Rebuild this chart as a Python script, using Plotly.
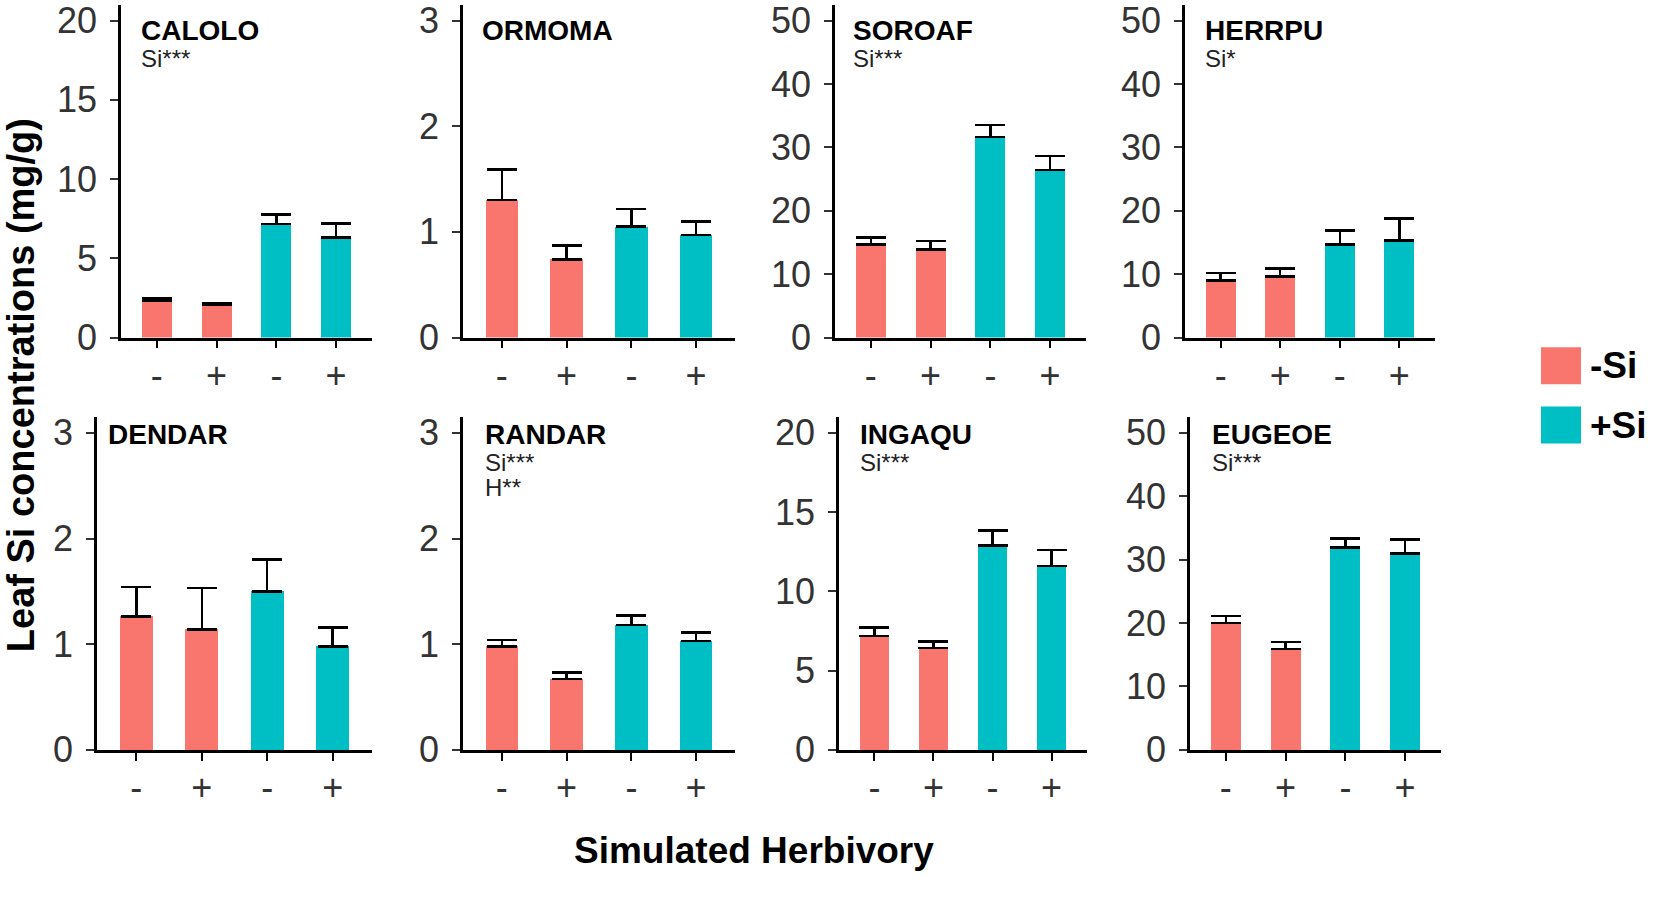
import plotly.graph_objects as go
from plotly.subplots import make_subplots

# data
species = ["CALOLO", "ORMOMA", "SOROAF", "HERRPU", "DENDAR", "RANDAR", "INGAQU", "EUGEOE"]
sig = [["Si***"], [], ["Si***"], ["Si*"], [], ["Si***", "H**"], ["Si***"], ["Si***"]]
ymax = [20, 3, 50, 50, 3, 3, 20, 50]
ystep = [5, 1, 10, 10, 1, 1, 5, 10]
groups = ["-Si", "+Si"]
herb = ["-", "+"]
# mean per species: [-Si/H-, -Si/H+, +Si/H-, +Si/H+]
means = [
    [2.31, 2.04, 7.16, 6.30],
    [1.30, 0.74, 1.05, 0.97],
    [14.7, 13.9, 31.6, 26.4],
    [9.0, 9.6, 14.7, 15.3],
    [1.26, 1.14, 1.50, 0.98],
    [0.98, 0.67, 1.18, 1.03],
    [7.18, 6.43, 12.9, 11.6],
    [20.0, 15.9, 31.9, 31.0],
]
se = [
    [0.16, 0.15, 0.61, 0.88],
    [0.29, 0.13, 0.165, 0.13],
    [1.05, 1.3, 1.9, 2.2],
    [1.2, 1.3, 2.2, 3.5],
    [0.28, 0.39, 0.30, 0.18],
    [0.06, 0.06, 0.09, 0.08],
    [0.53, 0.41, 0.94, 1.0],
    [1.1, 1.1, 1.4, 2.2],
]
colors = {"-Si": "#F8766D", "+Si": "#00BFC4"}

# layout in screen pixels
W, H = 1654, 908


def fx(p):
    return p / W


def fy(p):
    return 1 - p / H


xpix = [[121, 372], [463, 735], [835, 1086], [1185, 1435],
        [97, 372], [463, 735], [839, 1087], [1190, 1441]]
# row: (zero line, top tick, top of axis)
ypix = [(343, 17, 1), (767, 441, 425)]
title_dx = [20, 19, 18, 20, 11, 22, 21, 22]
title_top = [9, 425]

SANS = "Liberation Sans, Arial"

fig = make_subplots(rows=2, cols=4)
cats = [g + " " + h for g in groups for h in herb]

for i, sp in enumerate(species):
    r, c = i // 4 + 1, i % 4 + 1
    y0, ytop_tick, ytop = ypix[r - 1]
    rmax = ymax[i] * (y0 - ytop) / (y0 - ytop_tick)
    for j, g in enumerate(groups):
        fig.add_trace(go.Bar(
            x=cats[2 * j:2 * j + 2], y=means[i][2 * j:2 * j + 2],
            width=0.5, marker=dict(color=colors[g], line_width=0),
            error_y=dict(type="data", array=se[i][2 * j:2 * j + 2], arrayminus=[0, 0],
                         symmetric=False, color="black", thickness=2.5, width=15),
            showlegend=False), row=r, col=c)
    n = "" if i == 0 else str(i + 1)
    fig.layout["xaxis" + n].update(
        domain=[fx(xpix[i][0]), fx(xpix[i][1])], type="category",
        categoryorder="array", categoryarray=cats,
        range=[-0.6, 3.6], tickvals=cats, ticktext=herb * 2,
        showline=True, linecolor="black", linewidth=2.5, ticks="outside", ticklen=8,
        tickwidth=2, tickcolor="black", ticklabelstandoff=-4,
        tickfont=dict(family=SANS, size=36, color="#333333"), showgrid=False,
        fixedrange=True)
    fig.layout["yaxis" + n].update(
        domain=[fy(y0), fy(ytop)], range=[0, rmax], dtick=ystep[i], tick0=0,
        showline=True, linecolor="black", linewidth=2.5, ticks="outside", ticklen=8,
        tickwidth=2, tickcolor="#333333", ticklabelstandoff=6,
        ticklabeloverflow="allow",
        tickfont=dict(family=SANS, size=36, color="#333333"), showgrid=False,
        zeroline=False)
    xr = "x" + n + " domain"
    tt = title_top[r - 1]
    fig.add_annotation(xref=xr, yref="paper", x=0, y=fy(tt), xanchor="left",
                       yanchor="top", xshift=title_dx[i] - 2, showarrow=False,
                       text="<b>" + sp + "</b>",
                       font=dict(family=SANS, size=28, color="black"))
    for k, s in enumerate(sig[i]):
        fig.add_annotation(xref=xr, yref="paper", x=0, y=fy(tt + 31 + 25 * k),
                           xanchor="left", yanchor="top", xshift=title_dx[i] - 2,
                           showarrow=False, text=s,
                           font=dict(family=SANS, size=24, color="#222222"))

# axis titles
fig.add_annotation(xref="paper", yref="paper", x=fx(21), y=fy(392), textangle=-90,
                   xanchor="center", yanchor="middle",
                   showarrow=False, text="<b>Leaf Si concentrations (mg/g)</b>",
                   font=dict(family=SANS, size=38, color="black"))
fig.add_annotation(xref="paper", yref="paper", x=fx(754), y=fy(870),
                   xanchor="center", yanchor="middle",
                   showarrow=False, text="<b>Simulated Herbivory</b>",
                   font=dict(family=SANS, size=37, color="black"))

# legend
for k, g in enumerate(groups):
    top = 353 + 61 * k
    fig.add_shape(type="rect", xref="paper", yref="paper", x0=fx(1541), x1=fx(1581),
                  y0=fy(top + 38), y1=fy(top), fillcolor=colors[g], line_width=0)
    fig.add_annotation(xref="paper", yref="paper", x=fx(1588), y=fy(top + 19),
                       xanchor="left", yanchor="middle", showarrow=False,
                       text="<b>" + g + "</b>",
                       font=dict(family=SANS, size=37, color="black"))

fig.update_layout(width=W, height=H, margin=dict(l=0, r=0, t=0, b=0),
                  plot_bgcolor="white", paper_bgcolor="white", bargap=0)
# drop the default page margin so the 1654x908 figure fills the window
fig.write_html("out.html", config={"displayModeBar": False},
               post_script="document.body.style.margin='0';"
                           "document.body.style.overflow='hidden';")
